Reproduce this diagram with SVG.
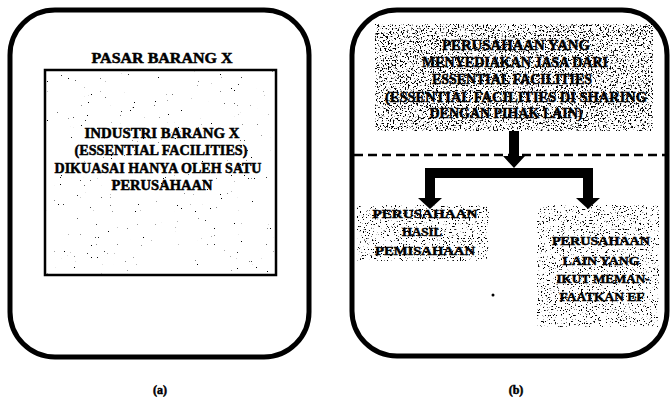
<svg xmlns="http://www.w3.org/2000/svg" width="672" height="397" viewBox="0 0 672 397">
<style>
.panel{fill:#fff;stroke:#000;stroke-width:5}
.t{font-family:"Liberation Serif","Times New Roman",serif;font-weight:bold;fill:#000;stroke:#000;stroke-width:0.5;text-anchor:middle}
.arrow{fill:#000;stroke:none}
.dash{stroke:#000;stroke-width:2.5;stroke-dasharray:9 5;fill:none}
</style>
<defs>
<filter id="spkDense" x="0" y="0" width="1" height="1" color-interpolation-filters="sRGB">
<feTurbulence type="fractalNoise" baseFrequency="0.6" numOctaves="3" seed="7"/>
<feColorMatrix type="matrix" values="0 0 0 0 0  0 0 0 0 0  0 0 0 0 0  12 0 0 0 -6.8"/>
</filter>
<filter id="spkMed" x="0" y="0" width="1" height="1" color-interpolation-filters="sRGB">
<feTurbulence type="fractalNoise" baseFrequency="0.65" numOctaves="3" seed="11"/>
<feColorMatrix type="matrix" values="0 0 0 0 0  0 0 0 0 0  0 0 0 0 0  14 0 0 0 -8.9"/>
</filter>
<filter id="spkSparse" x="0" y="0" width="1" height="1" color-interpolation-filters="sRGB">
<feTurbulence type="fractalNoise" baseFrequency="0.7" numOctaves="3" seed="3"/>
<feColorMatrix type="matrix" values="0 0 0 0 0  0 0 0 0 0  0 0 0 0 0  20 0 0 0 -15.8"/>
</filter>
</defs>
<rect width="672" height="397" fill="#fff"/>

<g id="panel-a">
<rect class="panel" x="10" y="10" width="299" height="347" rx="45" ry="45"/>
<text class="t" x="162" y="63" font-size="15.5" textLength="141" lengthAdjust="spacingAndGlyphs">PASAR BARANG X</text>
</g>
<g id="box-industri">
<rect x="45" y="70" width="231" height="205" fill="#fff"/>
<rect x="46" y="71" width="229" height="203" fill="#000" filter="url(#spkSparse)"/>
<rect x="45" y="70" width="231" height="205" fill="none" stroke="#000" stroke-width="2.5"/>
<text class="t" x="162" y="138" font-size="14.5" textLength="155" lengthAdjust="spacingAndGlyphs">INDUSTRI BARANG X</text>
<text class="t" x="161" y="155" font-size="14.5" textLength="173" lengthAdjust="spacingAndGlyphs">(ESSENTIAL FACILITIES)</text>
<text class="t" x="158" y="173" font-size="14.5" textLength="207" lengthAdjust="spacingAndGlyphs">DIKUASAI HANYA OLEH SATU</text>
<text class="t" x="162" y="190" font-size="14.5" textLength="101" lengthAdjust="spacingAndGlyphs">PERUSAHAAN</text>
</g>
<text class="t" x="160" y="394" font-size="12">(a)</text>

<g id="panel-b">
<rect class="panel" x="352" y="10" width="315" height="346" rx="45" ry="45"/>
</g>
<g id="box-penyedia">
<rect x="375" y="24" width="278" height="107" fill="#000" filter="url(#spkDense)"/>
<text class="t" x="516" y="50" font-size="14" textLength="148" lengthAdjust="spacingAndGlyphs">PERUSAHAAN YANG</text>
<text class="t" x="515" y="67" font-size="14" textLength="186" lengthAdjust="spacingAndGlyphs">MENYEDIAKAN JASA DARI</text>
<text class="t" x="512" y="84" font-size="14" textLength="160" lengthAdjust="spacingAndGlyphs">ESSENTIAL FACILITIES</text>
<text class="t" x="516" y="102" font-size="14" textLength="262" lengthAdjust="spacingAndGlyphs">(ESSENTIAL FACILITIES DI SHARING</text>
<text class="t" x="506" y="118" font-size="14" textLength="153" lengthAdjust="spacingAndGlyphs">DENGAN PIHAK LAIN)</text>
</g>
<line class="dash" x1="354" y1="155" x2="667" y2="155"/>
<g id="box-pemisahan">
<rect x="357" y="205" width="132" height="56" fill="#000" filter="url(#spkMed)"/>
<text class="t" x="425" y="218" font-size="13.5" textLength="105" lengthAdjust="spacingAndGlyphs">PERUSAHAAN</text>
<text class="t" x="422" y="236" font-size="13.5" textLength="40" lengthAdjust="spacingAndGlyphs">HASIL</text>
<text class="t" x="425" y="255" font-size="13.5" textLength="100" lengthAdjust="spacingAndGlyphs">PEMISAHAAN</text>
</g>
<g id="box-lain">
<rect x="537" y="205" width="122" height="122" fill="#000" filter="url(#spkMed)"/>
<text class="t" x="601" y="245" font-size="13.5" textLength="98" lengthAdjust="spacingAndGlyphs">PERUSAHAAN</text>
<text class="t" x="601" y="265" font-size="13.5" textLength="77" lengthAdjust="spacingAndGlyphs">LAIN YANG</text>
<text class="t" x="603" y="283" font-size="13.5" textLength="93" lengthAdjust="spacingAndGlyphs">IKUT MEMAN-</text>
<text class="t" x="602" y="301" font-size="13.5" textLength="85" lengthAdjust="spacingAndGlyphs">FAATKAN EF</text>
</g>
<text class="t" x="516" y="394" font-size="12">(b)</text>
<circle cx="493" cy="295" r="1.5" fill="#000"/>

<g id="connectors">
<polygon class="arrow" points="509,131 519,131 519,156 525,156 514,168 503,156 509,156"/>
<polygon class="arrow" points="425,168 593,168 593,198 600,198 588,209 576,198 583,198 583,178 435,178 435,198 442,198 430,209 418,198 425,198"/>
</g>
</svg>
